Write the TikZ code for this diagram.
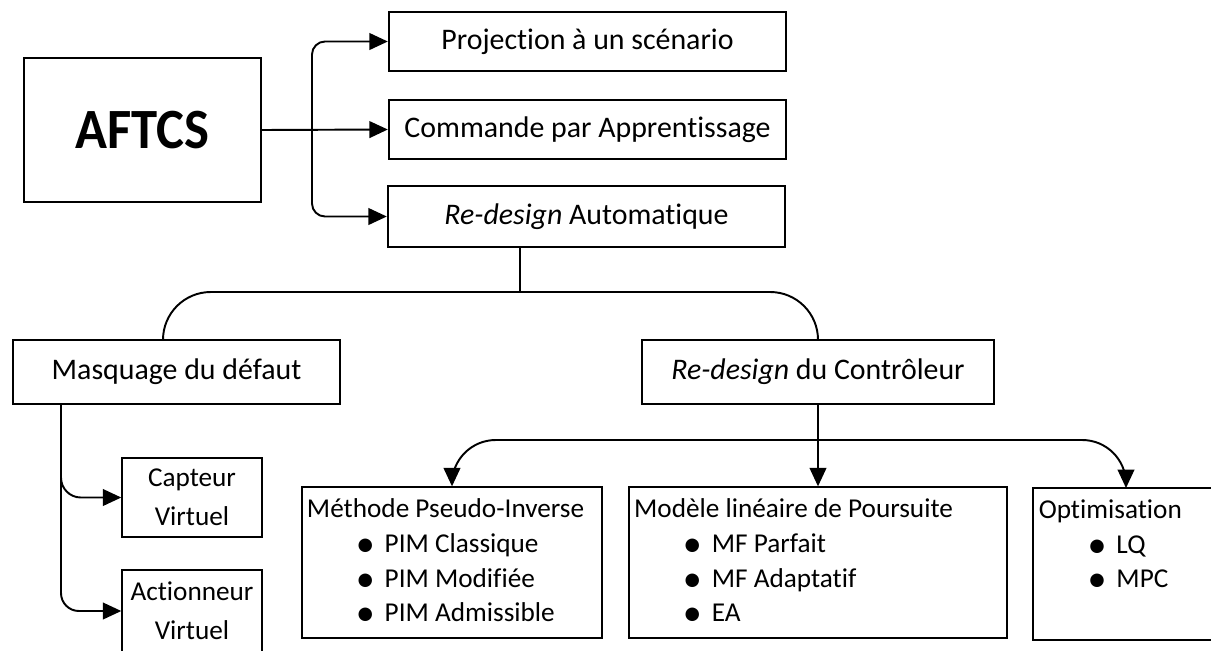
\documentclass[tikz,border=0pt]{standalone}
\usepackage{fontspec}
\setmainfont{Carlito}[Ligatures={NoCommon}]
\usetikzlibrary{arrows.meta,calc}
\newlength\px \setlength\px{0.5669pt}
\newcommand\bul{\hspace*{49\px}\makebox[29\px][l]{\smash{\raisebox{-0.3ex}{\scalebox{1.4}{•}}}}}
\begin{document}
\begin{tikzpicture}[x=0.02cm,y=-0.02cm,
  box/.style={draw, line width=1.1pt, inner sep=0pt, align=center},
  conn/.style={line width=1.1pt},
  arr/.style={conn, -{Triangle[length=10.5pt,width=9.5pt]}},
  big/.style={font=\fontsize{17}{20}\selectfont},
  small/.style={font=\fontsize{15.5}{22}\selectfont},
  lst/.style={font=\fontsize{15.5}{19.8}\selectfont, align=left, inner sep=0pt, anchor=north west},
]
\useasboundingbox (0,0) rectangle (1211,650);
\clip (0,0) rectangle (1211,650);

% nodes
\node[box, minimum width=134.4pt, minimum height=81.6pt, font=\fontsize{30}{36}\selectfont\bfseries] (aftcs) at (142.5,130) {\scalebox{1}[1.08]{AFTCS}};
\node[box, big, minimum width=226.2pt, minimum height=33.4pt] (proj) at (587.5,41.5) {Projection à un scénario};
\node[box, big, minimum width=226.2pt, minimum height=33.4pt] (comm) at (587.5,129.5) {Commande par Apprentissage};
\node[box, big, minimum width=226.2pt, minimum height=34.6pt] (rda) at (586.5,216.5) {\textit{Re-design} Automatique};
\node[box, big, minimum width=186.5pt, minimum height=36.3pt] (masq) at (176.5,372) {Masquage du défaut};
\node[box, big, minimum width=200.7pt, minimum height=36.3pt] (rdc) at (818,372) {\textit{Re-design} du Contrôleur};
\node[box, small, minimum width=79.4pt, minimum height=44.8pt] (capt) at (192,497.5) {Capteur\\Virtuel};
\node[box, small, minimum width=79.4pt, minimum height=46.5pt] (act) at (192,611) {Actionneur\\Virtuel};
\node[box, minimum width=171.2pt, minimum height=85.6pt] (meth) at (452,562.5) {};
\node[box, minimum width=215.4pt, minimum height=85.6pt] (mod) at (818,562.5) {};
\node[box, minimum width=107.7pt, minimum height=86.2pt] (opt) at (1128,564) {};

\node[lst] (methT) at ($(meth.north west)+(6,12)$) {Méthode Pseudo-Inverse\\\bul PIM Classique\\\bul PIM Modifiée\\\bul PIM Admissible};
\node[lst] (modT) at ($(mod.north west)+(6,12)$) {Modèle linéaire de Poursuite\\\bul MF Parfait\\\bul MF Adaptatif\\\bul EA};
\node[lst] (optT) at ($(opt.north west)+(6,12)$) {Optimisation\\\bul LQ\\\bul MPC};

% connectors
\coordinate (bus) at (312,130);
\draw[arr] (aftcs.east) -- (comm.west);
\draw[arr, rounded corners=7.4pt] (bus) |- (proj.west);
\draw[arr, rounded corners=7.4pt] (bus) |- (rda.west);

\coordinate (j1) at (520,292);
\coordinate (c1) at (163,292);
\draw[conn] (rda.south -| j1) -- (j1);
\draw[conn, rounded corners=27.2pt] (masq.north -| c1) |- (j1) -| (rdc.north);

\coordinate (mv) at (61,404);
\draw[arr, rounded corners=11.3pt] (masq.south -| mv) |- (capt.west);
\draw[arr, rounded corners=10.2pt] (masq.south -| mv) |- (act.west);

\draw[arr] (rdc.south) -- (mod.north);
\coordinate (hb) at (818,440);
\coordinate (ot) at (1126,488);
\draw[arr, rounded corners=24.9pt] (hb) -| (meth.north);
\draw[arr, rounded corners=24.9pt] (hb) -| (ot);
\end{tikzpicture}
\end{document}
